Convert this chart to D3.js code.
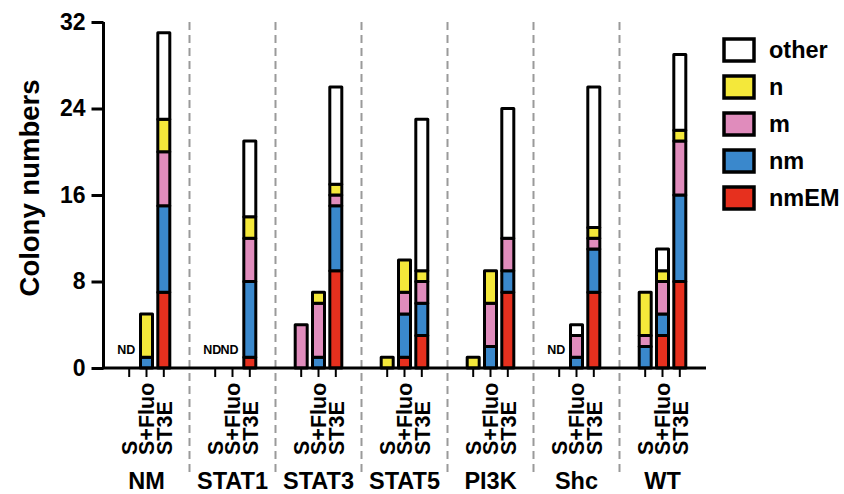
<!DOCTYPE html>
<html><head><meta charset="utf-8">
<script src="https://cdn.jsdelivr.net/npm/d3@7"></script>
<style>
html,body{margin:0;padding:0;background:#fff;}
text{font-family:"Liberation Sans",Arial,Helvetica,sans-serif;font-weight:bold;fill:#000;}
</style></head>
<body><svg id="chart" width="844" height="494"></svg>
<script>
const groups = ["NM","STAT1","STAT3","STAT5","PI3K","Shc","WT"];
const conditions = ["S","S+Fluo","ST3E"];
const categories = ["nmEM","nm","m","n","other"];
const legendOrder = ["other","n","m","nm","nmEM"];
const colors = ["#e6301e","#3a88cc","#e08cbc","#f4e83a","#ffffff"];
// values per bar, group-major: NM(S,S+Fluo,ST3E), STAT1(...), ...
const nmEM  = [0,0,7, 0,0,1, 0,0,9, 0,1,3, 0,0,7, 0,0,7, 0,3,8];
const nm    = [0,1,8, 0,0,7, 0,1,6, 0,4,3, 0,2,2, 0,1,4, 2,2,8];
const m     = [0,0,5, 0,0,4, 4,5,1, 0,2,2, 0,4,3, 0,2,1, 1,3,5];
const n     = [0,4,3, 0,0,2, 0,1,1, 1,3,1, 1,3,0, 0,0,1, 4,1,1];
const other = [0,0,8, 0,0,7, 0,0,9, 0,0,14, 0,0,12, 0,1,13, 0,2,7];
const yTicks = [0,8,16,24,32];
const ndBars = [["NM","S"],["STAT1","S"],["STAT1","S+Fluo"],["Shc","S"]];

const series = {nmEM, nm, m, n, other};
const rows = [];
groups.forEach((g,gi)=>conditions.forEach((c,ci)=>{
  const r = {group:g, cond:c};
  categories.forEach(k=>r[k]=series[k][gi*3+ci]);
  rows.push(r);
}));

const svg = d3.select("#chart");
const y = d3.scaleLinear().domain([0,32]).range([368,22]);
const gx = d3.scaleBand().domain(groups).range([103.5,705.5]).padding(0);
const ix = d3.scaleBand().domain(conditions).range([0,gx.bandwidth()]).paddingOuter(0.985);
const cx = (g,c)=>gx(g)+ix(c)+ix.bandwidth()/2;
const color = d3.scaleOrdinal().domain(categories).range(colors);

// dashed dividers
svg.append("g").selectAll("line").data(groups.slice(1)).join("line")
  .attr("x1",d=>gx(d)).attr("x2",d=>gx(d)).attr("y1",22).attr("y2",472)
  .attr("stroke","#9a9a9a").attr("stroke-width",2).attr("stroke-dasharray","8,5");

// stacked bars
const stack = d3.stack().keys(categories);
const stacked = stack(rows);
const barW = 12;
stacked.forEach(layer=>{
  svg.append("g").selectAll("rect").data(layer.filter(d=>d[1]-d[0]>0)).join("rect")
    .attr("x",d=>cx(d.data.group,d.data.cond)-barW/2)
    .attr("width",barW)
    .attr("y",d=>y(d[1]))
    .attr("height",d=>y(d[0])-y(d[1]))
    .attr("fill",color(layer.key))
    .attr("stroke","#000").attr("stroke-width",3).attr("stroke-linejoin","round");
});

// ND labels
svg.append("g").selectAll("text").data(ndBars).join("text")
  .attr("x",d=>cx(d[0],d[1])-3).attr("y",354)
  .attr("text-anchor","middle").style("font-size","12.5px").text("ND");

// y axis
const yAxis = svg.append("g").attr("transform","translate(103.5,0)")
  .call(d3.axisLeft(y).tickValues(yTicks).tickSize(12).tickPadding(6).tickFormat(d3.format("d")));
yAxis.select(".domain").attr("d",`M0,${y(32)}V${y(0)}`).attr("stroke","#000").attr("stroke-width",3);
yAxis.selectAll(".tick line").attr("stroke","#000").attr("stroke-width",3);
yAxis.selectAll(".tick text").style("font-size","23px").style("font-family","'Liberation Sans',Arial,sans-serif").style("font-weight","bold").attr("fill","#000");

// x axis baseline
svg.append("line").attr("x1",102).attr("x2",706).attr("y1",y(0)).attr("y2",y(0))
  .attr("stroke","#000").attr("stroke-width",3);
// x ticks
svg.append("g").selectAll("line").data(rows).join("line")
  .attr("x1",d=>cx(d.group,d.cond)).attr("x2",d=>cx(d.group,d.cond))
  .attr("y1",y(0)).attr("y2",377).attr("stroke","#000").attr("stroke-width",2);
// condition labels
svg.append("g").selectAll("text").data(rows).join("text")
  .attr("transform",d=>`translate(${cx(d.group,d.cond)},455) rotate(-90)`)
  .attr("dy","0.36em").attr("text-anchor","start").style("font-size","21.5px").text(d=>d.cond);
// group labels
svg.append("g").selectAll("text").data(groups).join("text")
  .attr("x",d=>gx(d)+gx.bandwidth()/2).attr("y",489).attr("text-anchor","middle")
  .style("font-size","23.5px").text(d=>d);

// y label
svg.append("text").attr("transform","translate(29,188) rotate(-90)")
  .attr("dy","0.35em").attr("text-anchor","middle").style("font-size","27.5px").text("Colony numbers");

// legend
const lg = svg.append("g").selectAll("g").data(legendOrder).join("g")
  .attr("transform",(d,i)=>`translate(724,${50+i*37})`);
lg.append("rect").attr("x",0).attr("y",-11).attr("width",30).attr("height",22)
  .attr("fill",d=>color(d)).attr("stroke","#000").attr("stroke-width",3.5);
lg.append("text").attr("x",45).attr("y",0).attr("dy","0.35em").style("font-size","23.5px").text(d=>d);
</script></body></html>
